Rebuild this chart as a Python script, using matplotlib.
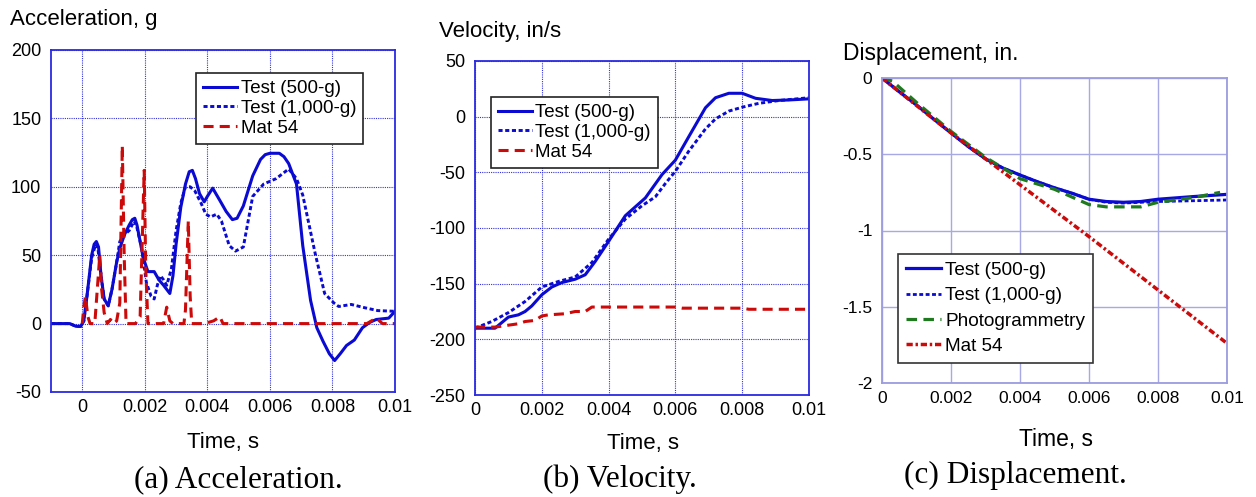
import numpy as np
import matplotlib
matplotlib.use("Agg")
import matplotlib.pyplot as plt

plt.rcParams['font.family'] = ['Liberation Sans', 'DejaVu Sans']
plt.rcParams['axes.unicode_minus'] = False

# ---- data (time in ms) ----
# (a) acceleration, g
acc500_t = [-1.0, -0.4, -0.3, -0.2, -0.05, 0.05, 0.15, 0.3, 0.38, 0.45, 0.52, 0.6, 0.7, 0.83,
            0.95, 1.1, 1.2, 1.35, 1.5, 1.6, 1.68, 1.75, 1.85, 1.95, 2.1, 2.3, 2.45, 2.6, 2.8,
            2.9, 3.0, 3.15, 3.3, 3.42, 3.52, 3.62, 3.75, 3.9, 4.0, 4.17, 4.4, 4.6, 4.8, 4.95,
            5.15, 5.45, 5.7, 5.85, 6.0, 6.3, 6.45, 6.6, 6.85, 7.05, 7.3, 7.5, 7.7, 7.9, 8.07,
            8.25, 8.45, 8.7, 8.96, 9.2, 9.4, 9.8, 10.0]
acc500_v = [0, 0, -1, -2, -2, 2, 20, 50, 58, 60, 56, 35, 18, 13,
            25, 45, 55, 65, 72, 76, 77, 72, 60, 48, 38, 38, 32, 28, 22,
            35, 58, 85, 102, 111, 112, 106, 95, 89, 93, 99, 90, 82, 76, 77,
            86, 108, 120, 123.5, 124.5, 124.5, 122, 117, 102, 57, 17, -3, -13, -22, -27,
            -22, -16, -12, -3, 1, 3, 4, 9]
acc1000_t = [-1.0, -0.4, -0.2, -0.05, 0.05, 0.15, 0.3, 0.43, 0.5, 0.6, 0.7, 0.83, 0.95, 1.1,
             1.2, 1.35, 1.5, 1.66, 1.75, 1.9, 2.05, 2.2, 2.3, 2.4, 2.5, 2.6, 2.7, 2.85, 3.0,
             3.15, 3.3, 3.45, 3.6, 3.8, 3.95, 4.1, 4.3, 4.45, 4.7, 4.9, 5.15, 5.45, 5.8, 6.2,
             6.6, 6.85, 7.05, 7.45, 7.75, 8.05, 8.2, 8.6, 9.05, 9.45, 10.0]
acc1000_v = [0, 0, -2, -2, 2, 20, 48, 58, 55, 35, 18, 13, 25, 45,
             60, 65, 68, 75, 70, 55, 30, 20, 18, 28, 35, 32, 28, 40, 68,
             88, 100, 100, 97, 88, 80, 78, 80, 75, 57, 53, 56, 93, 102, 106,
             113, 106, 94, 51, 22, 15, 12.5, 14, 11.5, 9.5, 9]
accm54_t = [0, 0.05, 0.1, 0.18, 0.25, 0.4, 0.56, 0.62, 0.7, 0.8, 0.9, 1.0, 1.1, 1.2, 1.28,
            1.34, 1.4, 1.7, 1.85, 1.98, 2.03, 2.1, 2.6, 2.7, 2.8, 2.9, 3.25, 3.3, 3.39, 3.45,
            3.5, 3.9, 4.2, 4.4, 4.5, 9.1, 9.4, 9.6, 10.0]
accm54_v = [0, 12, 20, 5, 0, 0, 50, 25, 8, 0, 3, 0, 2, 15, 130,
            50, 0, 0, 5, 112, 40, 0, 0, 12, 2, 0, 0, 10, 75, 20,
            0, 0, 2, 5, 0, 0, 4, 0, 0]

# (b) velocity, in/s
vel500_t = [0, 0.6, 0.8, 1.0, 1.3, 1.5, 1.7, 2.0, 2.3, 2.6, 3.0, 3.3, 3.6, 4.0, 4.5, 5.1,
            5.6, 6.0, 6.4, 6.9, 7.2, 7.6, 8.0, 8.4, 8.9, 9.4, 10.0]
vel500_v = [-190, -190, -185, -180, -178, -175, -170, -160, -153, -149, -146, -142, -130,
            -112, -89, -73, -52, -39, -18, 8, 17, 21, 21, 16.5, 14.5, 15, 16]
vel1000_t = [0, 0.5, 1.0, 1.5, 2.0, 2.5, 3.0, 3.5, 4.0, 4.5, 5.0, 5.4, 5.7, 6.0, 6.4, 6.9,
             7.2, 7.6, 8.0, 8.5, 9.1, 10.0]
vel1000_v = [-190, -184, -176, -166, -153, -148, -144, -131, -110, -92, -80, -72, -60, -49,
             -31, -11, -2, 5, 8.5, 12, 14.5, 17]
velm54_t = [0, 0.6, 1.3, 1.5, 1.8, 2.0, 2.2, 2.7, 3.0, 3.3, 3.5, 6.0, 6.2, 8.0, 8.2, 10.0]
velm54_v = [-189, -189, -186, -184, -183, -179, -178, -177, -175, -175, -171, -171, -172,
            -172, -173, -173]

# (c) displacement, in.
dis500_t = [0, 0.5, 1.0, 1.5, 2.0, 2.5, 3.0, 3.5, 4.0, 4.5, 5.0, 5.5, 6.0, 6.5, 7.0, 7.5,
            8.0, 9.0, 10.0]
dis500_v = [0, -0.09, -0.177, -0.27, -0.36, -0.45, -0.53, -0.59, -0.636, -0.68, -0.72,
            -0.755, -0.795, -0.81, -0.815, -0.81, -0.795, -0.778, -0.763]
dis1000_t = [0, 0.5, 1.0, 1.5, 2.0, 2.5, 3.0, 3.5, 4.0, 4.5, 5.0, 5.5, 6.0, 6.5, 7.0, 8.0,
             9.0, 10.0]
dis1000_v = [0, -0.09, -0.177, -0.27, -0.36, -0.45, -0.53, -0.59, -0.636, -0.68, -0.72,
             -0.755, -0.795, -0.815, -0.82, -0.81, -0.805, -0.80]
photo_t = [0, 0.3, 1.0, 2.0, 3.0, 4.0, 5.0, 6.0, 6.5, 7.5, 8.0, 9.0, 9.8]
photo_v = [0, -0.02, -0.16, -0.35, -0.52, -0.66, -0.73, -0.83, -0.845, -0.845, -0.815,
           -0.785, -0.75]
dism54_t = [0, 1, 2, 3, 4, 5, 6, 7, 8, 9, 10]
dism54_v = [0, -0.18, -0.36, -0.53, -0.70, -0.87, -1.04, -1.215, -1.39, -1.565, -1.74]

xticks = [0, 0.002, 0.004, 0.006, 0.008, 0.01]
xtick_labels = ['0', '0.002', '0.004', '0.006', '0.008', '0.01']

BLUE = '#0a0ad2'
RED = '#cc0a0a'
GREEN = '#1f7a1f'

W, H = 1256, 497
fig = plt.figure(figsize=(W / 100, H / 100), dpi=100)


def add_ax(l, r, t, b):
    return fig.add_axes([l / W, 1 - b / H, (r - l) / W, (b - t) / H])


def ms(t):
    return np.array(t) / 1000.0


def style_ab(ax):
    for s in ax.spines.values():
        s.set_color('#2a2ae0')
        s.set_linewidth(1.3)
    ax.grid(True, color='#3434dc', linestyle=(0, (1, 1)), linewidth=0.8)
    ax.tick_params(length=0, labelsize=13, pad=5)
    ax.tick_params(axis='y', pad=7)
    ax.set_axisbelow(True)


# ---- (a) Acceleration ----
ax = add_ax(51, 395, 50, 392)
ax.plot(ms(acc500_t), acc500_v, color=BLUE, lw=2.2, label='Test (500-g)',
        solid_joinstyle='round')
ax.plot(ms(acc1000_t), acc1000_v, color=BLUE, lw=2.1, dashes=(1.4, 0.9), label='Test (1,000-g)')
ax.plot(ms(accm54_t), accm54_v, color=RED, lw=2.2, dashes=(3.3, 2.0), label='Mat 54')
ax.set_xlim(-0.001, 0.01)
ax.set_ylim(-50, 200)
ax.set_xticks(xticks)
ax.set_xticklabels(xtick_labels)
ax.set_yticks([-50, 0, 50, 100, 150, 200])
ax.set_yticklabels(['-50', '0', '50', '100', '150', '200'])
style_ab(ax)
leg = ax.legend(loc='upper right', bbox_to_anchor=(0.933, 0.959), fontsize=13.5,
                handlelength=1.8, handletextpad=0.2, labelspacing=0.15, borderpad=0.35,
                fancybox=False, framealpha=1, edgecolor='#222222')
leg.get_frame().set_linewidth(1.2)

# ---- (b) Velocity ----
ax = add_ax(475, 809, 61, 395)
ax.plot(ms(vel500_t), vel500_v, color=BLUE, lw=2.2, label='Test (500-g)',
        solid_joinstyle='round')
ax.plot(ms(vel1000_t), vel1000_v, color=BLUE, lw=2.1, dashes=(1.4, 0.9), label='Test (1,000-g)')
ax.plot(ms(velm54_t), velm54_v, color=RED, lw=2.2, dashes=(3.3, 2.0), label='Mat 54')
ax.set_xlim(0, 0.01)
ax.set_ylim(-250, 50)
ax.set_xticks(xticks)
ax.set_xticklabels(xtick_labels)
ax.set_yticks([-250, -200, -150, -100, -50, 0, 50])
ax.set_yticklabels(['-250', '-200', '-150', '-100', '-50', '0', '50'])
style_ab(ax)
leg = ax.legend(loc='upper left', bbox_to_anchor=(0.021, 0.919), fontsize=13.5,
                handlelength=1.8, handletextpad=0.2, labelspacing=0.15, borderpad=0.35,
                fancybox=False, framealpha=1, edgecolor='#222222')
leg.get_frame().set_linewidth(1.2)

# ---- (c) Displacement ----
ax = add_ax(882, 1227, 78, 383)
ax.plot(ms(dis500_t), dis500_v, color=BLUE, lw=2.3, label='Test (500-g)')
ax.plot(ms(dis1000_t), dis1000_v, color=BLUE, lw=2.0, dashes=(1.4, 0.9), label='Test (1,000-g)')
ax.plot(ms(photo_t), photo_v, color=GREEN, lw=2.3, dashes=(3.3, 2.0), label='Photogrammetry')
ax.plot(ms(dism54_t), dism54_v, color=RED, lw=2.5, dashes=(1.8, 0.8, 0.7, 0.8), label='Mat 54')
ax.set_xlim(0, 0.01)
ax.set_ylim(-2, 0)
ax.set_xticks(xticks)
ax.set_xticklabels(xtick_labels)
ax.set_yticks([-2, -1.5, -1, -0.5, 0])
ax.set_yticklabels(['-2', '-1.5', '-1', '-0.5', '0'])
for s in ax.spines.values():
    s.set_color('#9c9ce0')
    s.set_linewidth(1.3)
ax.grid(True, color='#a8a8e4', linestyle='-', linewidth=1.0)
ax.set_axisbelow(True)
ax.tick_params(length=0, labelsize=12.5, pad=6)
ax.tick_params(axis='y', pad=7)
leg = ax.legend(loc='lower left', bbox_to_anchor=(0.02, 0.036), fontsize=13.7,
                handlelength=1.85, handletextpad=0.2, labelspacing=0.42, borderpad=0.4,
                fancybox=False, framealpha=1, edgecolor='#333333')
leg.get_frame().set_linewidth(1.2)


def ftext(x, y, s, **kw):
    fig.text(x / W, 1 - y / H, s, va='baseline', **kw)


ftext(10, 25, 'Acceleration, g', fontsize=16)
ftext(439, 37, 'Velocity, in/s', fontsize=16)
ftext(843, 60, 'Displacement, in.', fontsize=16.5)
ftext(223, 448, 'Time, s', fontsize=16, ha='center')
ftext(643, 449, 'Time, s', fontsize=16, ha='center')
ftext(1056, 446, 'Time, s', fontsize=16.5, ha='center')
serif = ['Liberation Serif', 'DejaVu Serif']
ftext(238, 487, '(a) Acceleration.', fontsize=22.5, ha='center', family=serif)
ftext(620, 487, '(b) Velocity.', fontsize=22.5, ha='center', family=serif)
ftext(1015, 483, '(c) Displacement.', fontsize=22.5, ha='center', family=serif)

fig.savefig('out.png', dpi=100, facecolor='white')
